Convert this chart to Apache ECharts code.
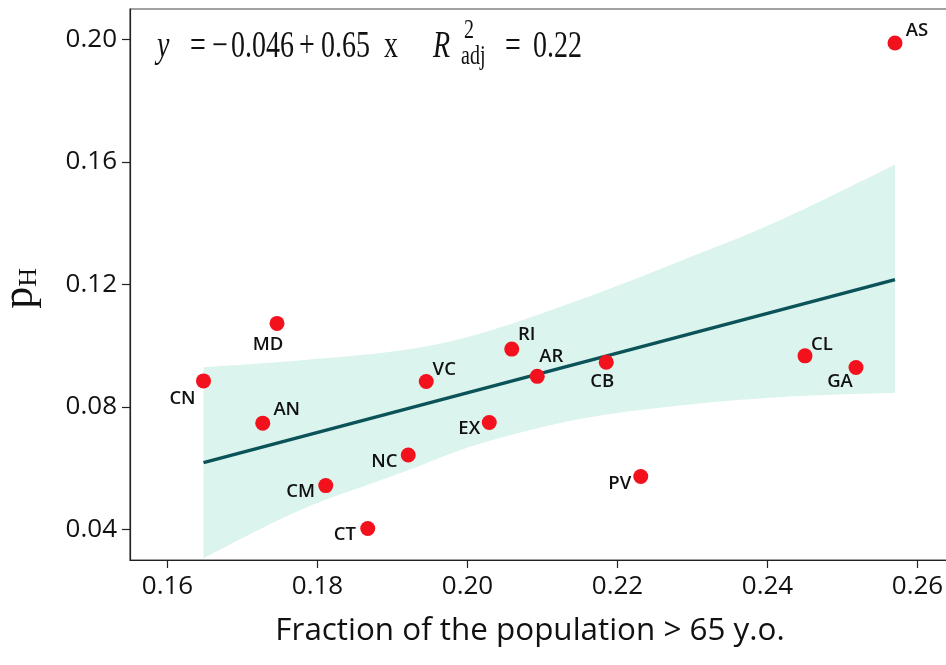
<!DOCTYPE html>
<html><head><meta charset="utf-8">
<script src="https://cdn.jsdelivr.net/npm/echarts@6/dist/echarts.min.js"></script>
<style>html,body{margin:0;padding:0;background:#fff}#c{width:946px;height:665px}</style>
</head><body><div id="c"></div>
<script>
// ---- data ----
const regions   = ['AS','MD','CN','AN','VC','NC','CM','CT','RI','AR','CB','EX','PV','CL','GA'];
const fracOver65 = [0.2570,0.1746,0.1648,0.1727,0.1945,0.1921,0.1811,0.1867,0.2059,0.2093,0.2185,0.2029,0.2231,0.2450,0.2518];
const pHvalues   = [0.1989,0.1073,0.0885,0.0747,0.0883,0.0643,0.0543,0.0403,0.0989,0.0900,0.0946,0.0749,0.0573,0.0967,0.0929];
const fitX = [0.1648, 0.2570];
const fitY = [0.0618, 0.1216];
const bandX     = [0.1648,0.1776,0.1910,0.2016,0.2150,0.2283,0.2416,0.2570];
const bandUpper = [0.0930,0.0952,0.0984,0.1039,0.1150,0.1276,0.1409,0.1592];
const bandLower = [0.0306,0.0462,0.0583,0.0680,0.0761,0.0805,0.0832,0.0846];
const xTicks = [0.16,0.18,0.20,0.22,0.24,0.26];
const yTicks = [0.04,0.08,0.12,0.16,0.20];

// ---- label placement (pixels, relative to the dot) ----
const labelOffsets = {AS:[22,-12],MD:[-9,21],CN:[-21,18],AN:[24,-13],VC:[18,-12],NC:[-24,7],CM:[-25,6],CT:[-23,6],
  RI:[15,-14],AR:[14,-20],CB:[-4,19],EX:[-20,6],PV:[-21,7],CL:[17,-11],GA:[-16,14]};

const chart = echarts.init(document.getElementById('c'), null, {renderer:'canvas'});
const sans = '"Open Sans", "Noto Sans", sans-serif';
const serif = '"Liberation Serif", "DejaVu Serif", serif';

const scatterData = regions.map((n,i)=>({
  name:n, value:[fracOver65[i], pHvalues[i]],
  label:{offset: labelOffsets[n]}
}));

// smooth curve through screen points (Catmull-Rom as cubic Bezier), like line smoothing
function curveSeg(pts){
  let d = '';
  for (let i = 0; i < pts.length - 1; i++){
    const p0 = pts[i-1] || pts[i], p1 = pts[i], p2 = pts[i+1], p3 = pts[i+2] || pts[i+1];
    const c1 = [p1[0] + (p2[0]-p0[0])/6, p1[1] + (p2[1]-p0[1])/6];
    const c2 = [p2[0] - (p3[0]-p1[0])/6, p2[1] - (p3[1]-p1[1])/6];
    d += 'C' + c1.join(' ') + ' ' + c2.join(' ') + ' ' + p2.join(' ');
  }
  return d;
}
function bandItem(params, api){
  if (params.dataIndex !== 0) return null;
  const n = params.dataInsideLength;
  const up = [], lo = [];
  for (let i = 0; i < n; i++){
    const x = api.value(0, i);
    up.push(api.coord([x, api.value(2, i)]));
    lo.push(api.coord([x, api.value(1, i)]));
  }
  lo.reverse();
  const d = 'M' + up[0].join(' ') + curveSeg(up) + 'L' + lo[0].join(' ') + curveSeg(lo) + 'Z';
  const all = up.concat(lo);
  const xs = all.map(p=>p[0]), ys = all.map(p=>p[1]);
  const x0 = Math.min(...xs), y0 = Math.min(...ys);
  return {type:'path', shape:{pathData:d, x:x0, y:y0, width:Math.max(...xs)-x0, height:Math.max(...ys)-y0, layout:'cover'},
          style:{fill:'#dcf4ee'}, silent:true};
}

const eqStyle = (txt, size, italic) => ({text:txt, font:(italic?'italic ':'')+size+'px '+serif, fill:'#111'});
const eqY = 28, sc = 1.35, fs = 28;

const option = {
  animation:false,
  backgroundColor:'#fff',
  grid:{left:130, top:9, width:825, height:551, outerBoundsMode:'none', containLabel:false,
        show:true, borderColor:'#444', borderWidth:1.2, backgroundColor:'transparent'},
  xAxis:{
    type:'value', min:0.155, max:0.265,
    splitLine:{show:false},
    axisLine:{show:true, onZero:false, lineStyle:{color:'#222', width:1.2}},
    axisTick:{show:true, length:8, customValues:xTicks, lineStyle:{color:'#222', width:1.2}},
    axisLabel:{customValues:xTicks, formatter:v=>v.toFixed(2), margin:14, color:'#111', fontFamily:sans, fontSize:26},
    name:'Fraction of the population > 65 y.o.',
    nameLocation:'middle', nameGap:56,
    nameTextStyle:{color:'#111', fontFamily:sans, fontSize:31.4, padding:[0,25,0,0]}
  },
  yAxis:{
    type:'value', min:0.03, max:0.21,
    splitLine:{show:false},
    axisLine:{show:true, onZero:false, lineStyle:{color:'#222', width:1.2}},
    axisTick:{show:true, length:8, customValues:yTicks, lineStyle:{color:'#222', width:1.2}},
    axisLabel:{customValues:yTicks, formatter:v=>v.toFixed(2), margin:13, color:'#111', fontFamily:sans, fontSize:26}
  },
  series:[
    {type:'custom', name:'band', renderItem:bandItem, silent:true, z:1,
     encode:{x:0, y:[1,2]},
     data:bandX.map((x,i)=>[x,bandLower[i],bandUpper[i]])},
    {type:'line', name:'fit', data:fitX.map((x,i)=>[x,fitY[i]]), symbol:'none',
     lineStyle:{color:'#0b5359', width:3.5}, z:3},
    {type:'scatter', name:'regions', data:scatterData, symbol:'circle', symbolSize:15,
     itemStyle:{color:'#f2111c', opacity:1}, z:5,
     label:{show:true, position:'inside', formatter:p=>p.name, color:'#111', fontFamily:sans, fontWeight:600, fontSize:18.5, align:'center', verticalAlign:'middle'}}
  ],
  graphic:[
    {type:'text', left:157, top:eqY, z:100, scaleY:sc, style:eqStyle('y',fs,true)},
    {type:'text', left:190, top:eqY, z:100, scaleY:sc, style:eqStyle('=',fs)},
    {type:'text', left:212, top:eqY, z:100, scaleY:sc, style:eqStyle('−',fs)},
    {type:'text', left:231, top:eqY, z:100, scaleY:sc, style:eqStyle('0.046',fs)},
    {type:'text', left:299, top:eqY, z:100, scaleY:sc, style:eqStyle('+',fs)},
    {type:'text', left:321, top:eqY, z:100, scaleY:sc, style:eqStyle('0.65',fs)},
    {type:'text', left:384, top:eqY, z:100, scaleY:sc, style:eqStyle('x',fs)},
    {type:'text', left:433, top:eqY, z:100, scaleY:sc, style:eqStyle('R',fs,true)},
    {type:'text', left:464, top:17, z:100, scaleY:sc, style:eqStyle('2',20)},
    {type:'text', left:461, top:43, z:100, scaleY:sc, style:eqStyle('adj',20)},
    {type:'text', left:505, top:eqY, z:100, scaleY:sc, style:eqStyle('=',fs)},
    {type:'text', left:533, top:eqY, z:100, scaleY:sc, style:eqStyle('0.22',fs)},
    {type:'text', left:-2, top:268, z:100, rotation:Math.PI/2, style:{
      text:'{p|p}{h|H}', fill:'#111', rich:{p:{fontFamily:serif, fontSize:44}, h:{fontFamily:serif, fontSize:26, padding:[18,0,0,0]}}}}
  ]
};
chart.setOption(option);
</script>
</body></html>
